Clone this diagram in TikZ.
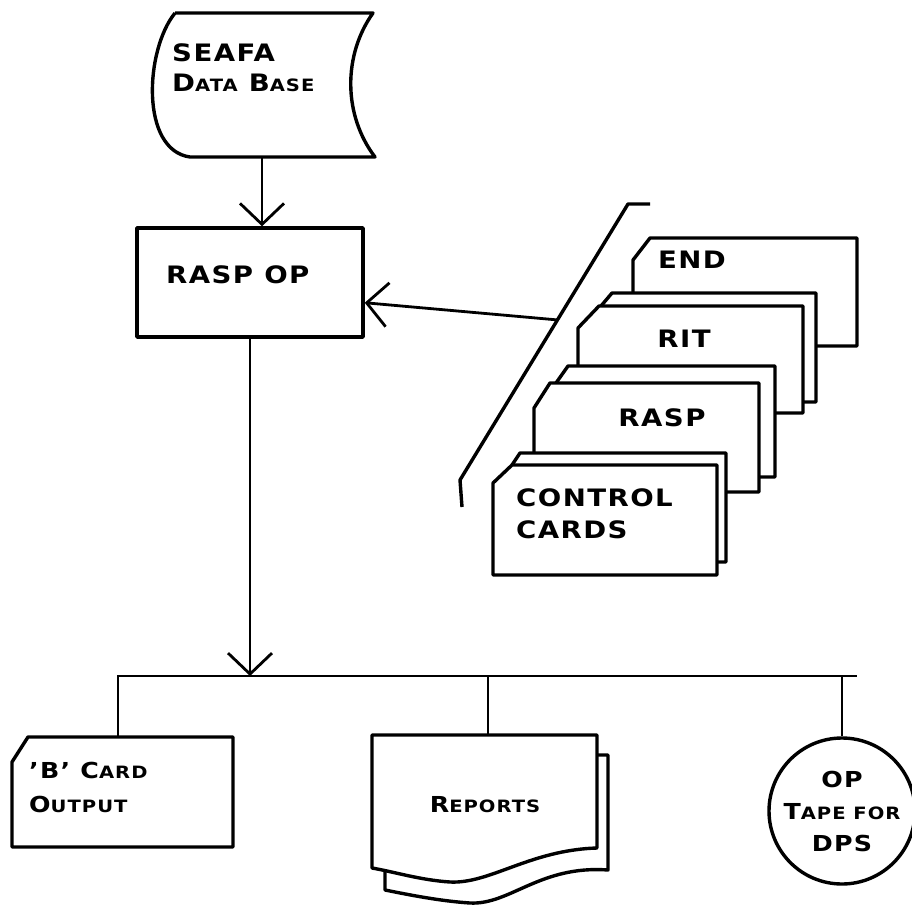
\documentclass[tikz,border=0pt]{standalone}
\usepackage{fontspec}
\setmainfont{DejaVu Sans}[FakeStretch=1.15,LetterSpace=6]
\usetikzlibrary{arrows.meta,calc}
\newcommand{\lowcaps}[1]{{\fontsize{17}{18}\selectfont #1}}

\begin{document}
\begin{tikzpicture}[x=1pt,y=-1pt,
  outline/.style={line width=3.4pt,line join=round},
  link/.style={line width=2.8pt},
  arr/.style={link,-{Straight Barb[length=21pt,width=44pt]}},
  lbl/.style={font=\bfseries\fontsize{24}{30}\selectfont,inner sep=0pt,align=left},
  sublbl/.style={font=\bfseries\fontsize{22}{34}\selectfont,inner sep=0pt,align=left}
]
  \useasboundingbox (0,0) rectangle (912,907);

  % data base
  \draw[outline] (175,13) -- (373,13) .. controls (343,55) and (343,115) .. (375,157)
    -- (190,157) .. controls (140,150) and (145,50) .. (175,13);
  \node[lbl,anchor=west] (seafatext) at (172,68) {SEAFA\\D\lowcaps{ATA} B\lowcaps{ASE}};
  \coordinate (seafa) at (262,157);

  \node[draw,outline,minimum width=226pt,minimum height=109pt,inner sep=0pt] (raspop) at (250,282.5) {};
  \node[lbl,anchor=west] (raspoptext) at (166,275) {RASP OP};

  % card deck
  \coordinate (decktop) at (628,204);
  \coordinate (deckbot) at (460,480);
  \draw[outline] (650,204) -- (decktop) -- (deckbot) -- (462,507);
  \coordinate (deck) at ($(decktop)!0.42!(deckbot)$);

  \draw[outline] (633,292) -- (633,260) -- (650,238) -- (857,238) -- (857,346) -- (816,346);
  \node[lbl] (endtext) at (692,260) {END};
  \draw[outline] (601,306) -- (612,293) -- (816,293) -- (816,402) -- (803,402);
  \draw[outline] (578,366) -- (578,328) -- (599,306) -- (803,306) -- (803,413) -- (775,413);
  \node[lbl] (rittext) at (684,339) {RIT};
  \draw[outline] (556,383) -- (568,366) -- (775,366) -- (775,477) -- (759,477);
  \draw[outline] (534,453) -- (534,408) -- (550,383) -- (759,383) -- (759,492) -- (726,492);
  \node[lbl] (rasptext) at (662,418) {RASP};
  \draw[outline] (512,465) -- (520,453) -- (726,453) -- (726,562) -- (717,562);
  \draw[outline] (493,575) -- (493,483) -- (512,465) -- (717,465) -- (717,575) -- cycle;
  \node[lbl,anchor=west,font=\bfseries\fontsize{24}{32}\selectfont] (ctrltext) at (516,514) {CONTROL\\CARDS};

  \draw[arr] (seafa) -- (seafa |- raspop.north);
  \draw[arr] (deck) -- (raspop.-10);

  % outputs
  \coordinate (busL) at (117,676);
  \coordinate (busR) at (857,676);
  \draw[link] (busL) -- (busR);
  \draw[arr] (raspop.south) -- (raspop.south |- busL);

  \draw[outline] (12,762) -- (28,737) -- (233,737) -- (233,847) -- (12,847) -- cycle;
  \node[sublbl,anchor=west] (bcardtext) at (29,787) {'B' C\lowcaps{ARD}\\O\lowcaps{UTPUT}};
  \coordinate (bcard) at (118,737);
  \draw[link] (bcard |- busL) -- (bcard);

  \draw[outline] (597,755) -- (608,755) -- (608,870) .. controls (540,865) and (510,905) .. (470,903)
    .. controls (440,901) and (410,895) .. (385,890) -- (385,872);
  \draw[outline] (372,735) -- (597,735) -- (597,848) .. controls (530,850) and (490,884) .. (450,882)
    .. controls (420,880) and (395,872) .. (372,868) -- cycle;
  \node[sublbl] (reportstext) at (485,805) {R\lowcaps{EPORTS}};
  \coordinate (reports) at (488,735);
  \draw[link] (reports |- busL) -- (reports);

  \node[draw,outline,circle,minimum size=146pt,inner sep=0pt,sublbl,align=center,
    font=\bfseries\fontsize{22}{32}\selectfont] (optape) at (842,811) {OP\\T\lowcaps{APE FOR}\\DPS};
  \draw[link] (optape.north |- busL) -- (optape.north);
\end{tikzpicture}
\end{document}
